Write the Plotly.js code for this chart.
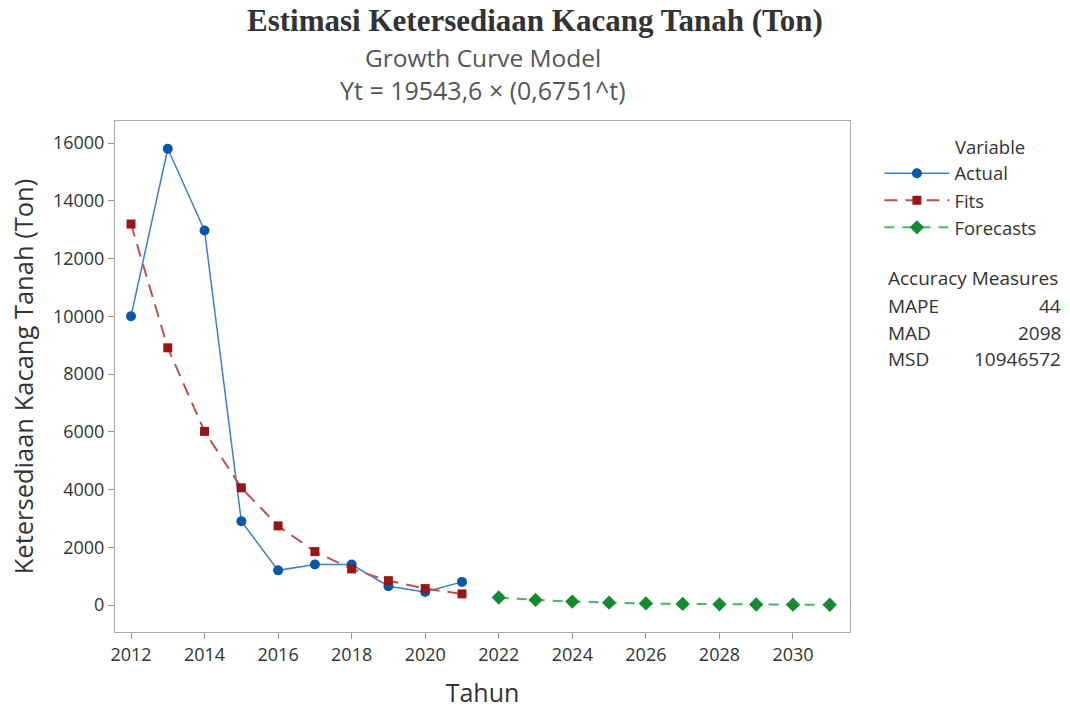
<!DOCTYPE html>
<html>
<head>
<meta charset="utf-8">
<script src="https://cdn.plot.ly/plotly-3.0.1.min.js"></script>
<style>html,body{margin:0;padding:0;background:#fff}#chart{width:1070px;height:709px}</style>
</head>
<body>
<div id="chart"></div>
<script>
const actualYears = [2012,2013,2014,2015,2016,2017,2018,2019,2020,2021];
const actualValues = [10000,15800,12970,2900,1200,1400,1400,650,450,800];
const fitYears = [2012,2013,2014,2015,2016,2017,2018,2019,2020,2021];
const fitValues = [13194,8907,6013,4059,2740,1850,1249,843,569,384];
const forecastYears = [2022,2023,2024,2025,2026,2027,2028,2029,2030,2031];
const forecastValues = [259,175,118,80,54,36,25,17,11,8];
const xTicks = [2012,2014,2016,2018,2020,2022,2024,2026,2028,2030];
const yTicks = [0,2000,4000,6000,8000,10000,12000,14000,16000];
const accuracyLabels = ["MAPE","MAD","MSD"];
const accuracyValues = ["44","2098","10946572"];

const font = "Open Sans, Noto Sans, sans-serif";
const traces = [
  {x: actualYears, y: actualValues, name: "Actual", mode: "lines+markers",
   line: {color: "#3a7fd0", width: 1.5}, marker: {color: "#0a56a8", symbol: "circle", size: 10}},
  {x: fitYears, y: fitValues, name: "Fits", mode: "lines+markers",
   line: {color: "#c0504d", width: 2, dash: "13px,8px"}, marker: {color: "#991616", symbol: "square", size: 9}},
  {x: forecastYears, y: forecastValues, name: "Forecasts", mode: "lines+markers",
   line: {color: "#4cb563", width: 2, dash: "10px,8px"}, marker: {color: "#168a32", symbol: "diamond", size: 11}}
];

const annotations = [
  {text: "Growth Curve Model", xref: "paper", yref: "paper", x: 0.5, y: 1, xanchor: "center", yanchor: "middle",
   yshift: 64, showarrow: false, font: {family: font, size: 24.5, color: "#555"}},
  {text: "Yt = 19543,6 × (0,6751^t)", xref: "paper", yref: "paper", x: 0.5, y: 1, xanchor: "center", yanchor: "middle",
   yshift: 31, showarrow: false, font: {family: font, size: 25, color: "#555"}},
  {text: "Variable", xref: "paper", yref: "paper", x: 1, y: 1, xanchor: "left", yanchor: "middle",
   xshift: 103, yshift: -25, showarrow: false, font: {family: font, size: 18.5, color: "#333"}},
  {text: "Accuracy Measures", xref: "paper", yref: "paper", x: 1, y: 1, xanchor: "left", yanchor: "middle",
   xshift: 36, yshift: -157, showarrow: false, font: {family: font, size: 19, color: "#333"}}
];
accuracyLabels.forEach((lab, i) => {
  annotations.push({text: lab, xref: "paper", yref: "paper", x: 1, y: 1, xanchor: "left", yanchor: "middle",
    xshift: 36, yshift: -185 - i*26.5, showarrow: false, font: {family: font, size: 19, color: "#333"}});
  annotations.push({text: accuracyValues[i], xref: "paper", yref: "paper", x: 1, y: 1, xanchor: "right", yanchor: "middle",
    xshift: 213, yshift: -185 - i*26.5, showarrow: false, font: {family: font, size: 19, color: "#333"}});
});

const layout = {
  width: 1070, height: 709,
  margin: {l: 115, r: 220, t: 121, b: 77},
  paper_bgcolor: "#fff", plot_bgcolor: "#fff",
  title: {text: "<b>Estimasi Ketersediaan Kacang Tanah (Ton)</b>", x: 0.5, xanchor: "center", y: 0.987, yanchor: "top",
          font: {family: "Liberation Serif, Times New Roman, serif", size: 31, color: "#333"}},
  xaxis: {range: [2011.565, 2031.55], tickvals: xTicks, ticktext: xTicks.map(String),
          showgrid: false, zeroline: false, ticks: "outside", ticklen: 6, tickcolor: "#999",
          showline: true, linecolor: "#aaa", linewidth: 1, mirror: true,
          tickfont: {family: font, size: 18, color: "#333"},
          title: {text: "Tahun", font: {family: font, size: 25, color: "#333"}, standoff: 20}},
  yaxis: {range: [-935, 16762], tickvals: yTicks, ticktext: yTicks.map(String),
          showgrid: false, zeroline: false, ticks: "outside", ticklen: 6, tickcolor: "#999",
          showline: true, linecolor: "#aaa", linewidth: 1, mirror: true,
          tickfont: {family: font, size: 18, color: "#333"},
          title: {text: "Ketersediaan Kacang Tanah (Ton)", font: {family: font, size: 25.5, color: "#333"}, standoff: 12}},
  showlegend: true,
  legend: {x: 1.04, y: 0.934, xanchor: "left", yanchor: "top",
           font: {family: font, size: 18.5, color: "#333"}, tracegroupgap: 0, itemwidth: 65,
           bgcolor: "rgba(0,0,0,0)"},
  annotations: annotations
};
Plotly.newPlot("chart", traces, layout, {displayModeBar: false});
</script>
</body>
</html>
